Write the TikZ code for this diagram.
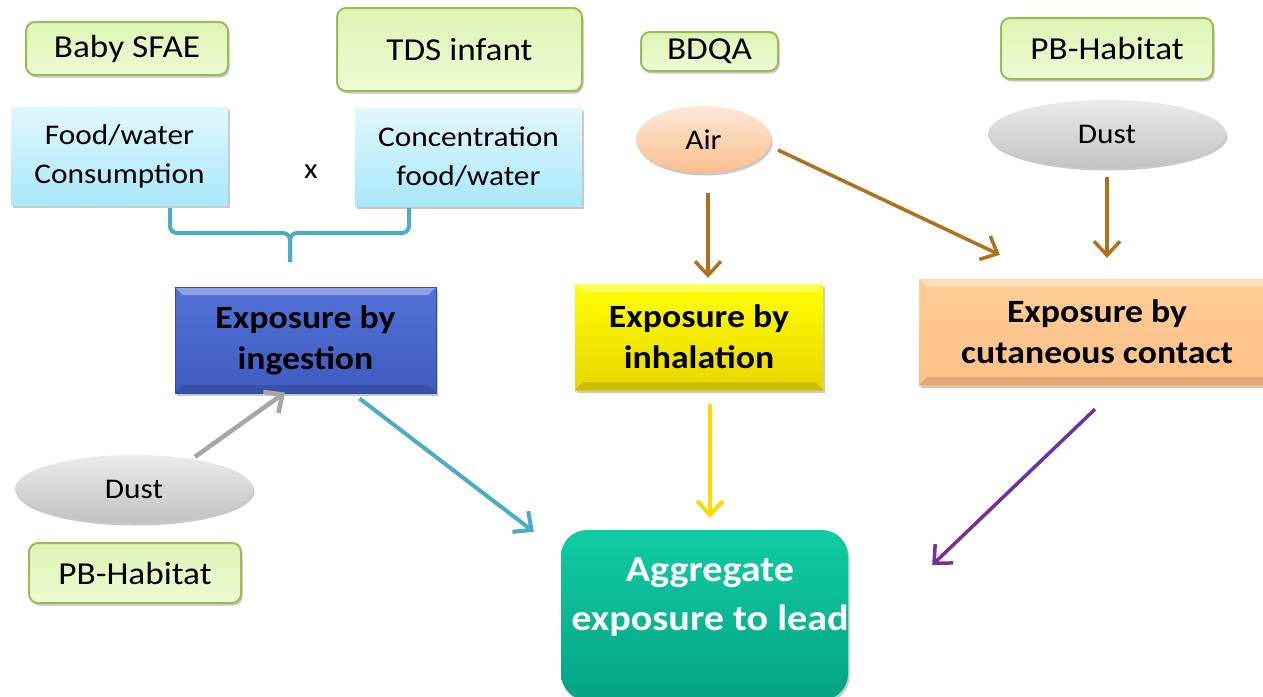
\documentclass[tikz,border=0pt]{standalone}
\usepackage{fontspec}
\setmainfont{Carlito}[FakeStretch=1.1]
\usetikzlibrary{shapes.geometric,shadows,arrows.meta}

\definecolor{srcborder}{HTML}{9BBB59}
\definecolor{srctop}{HTML}{DEF5B4}
\definecolor{srcbot}{HTML}{EDFBD4}
\definecolor{datatop}{HTML}{E2F7FD}
\definecolor{databot}{HTML}{A8E8FB}
\definecolor{airtop}{HTML}{FDE8D8}
\definecolor{airbot}{HTML}{FBBE8C}
\definecolor{dusttop}{HTML}{EBEBEB}
\definecolor{dustbot}{HTML}{C2C2C2}
\definecolor{ingtop}{HTML}{5272D8}
\definecolor{ingbot}{HTML}{3F5CBF}
\definecolor{ingline}{HTML}{34499A}
\definecolor{inhtop}{HTML}{FFFF00}
\definecolor{inhbot}{HTML}{E9D600}
\definecolor{cuttop}{HTML}{FFCC96}
\definecolor{cutbot}{HTML}{FCC188}
\definecolor{aggtop}{HTML}{10CCA2}
\definecolor{aggbot}{HTML}{06A484}
\definecolor{brownarrow}{HTML}{B0701C}
\definecolor{cyanarrow}{HTML}{4BACC6}
\definecolor{grayarrow}{HTML}{A6A6A6}
\definecolor{yellowarrow}{HTML}{FFD800}
\definecolor{purplearrow}{HTML}{7030A0}

\tikzset{
  softshadow/.style={drop shadow={shadow xshift=1.5pt,shadow yshift=-2.5pt,opacity=0.3,fill=black!70}},
  bevel/.style={path picture={
      \fill[white,opacity=0.35]
        (path picture bounding box.north west) -- (path picture bounding box.north east)
        -- ([xshift=-8pt,yshift=-8pt]path picture bounding box.north east)
        -- ([xshift=8pt,yshift=-8pt]path picture bounding box.north west) -- cycle;
      \fill[black,opacity=0.12]
        (path picture bounding box.south west) -- (path picture bounding box.south east)
        -- ([xshift=-8pt,yshift=8pt]path picture bounding box.south east)
        -- ([xshift=8pt,yshift=8pt]path picture bounding box.south west) -- cycle;}},
  srcbox/.style={rectangle,rounded corners=9pt,draw=srcborder,line width=2pt,
    top color=srctop,bottom color=srcbot,softshadow,inner sep=0pt,
    font=\fontsize{32}{38}\selectfont},
  databox/.style={rectangle,top color=datatop,bottom color=databot,softshadow,
    inner sep=0pt,align=center,font=\fontsize{28.5}{39}\selectfont},
  blob/.style={ellipse,inner sep=0pt,softshadow,font=\fontsize{28.5}{34}\selectfont},
  expbox/.style={rectangle,inner sep=0pt,align=center,softshadow,bevel,
    font=\bfseries\fontsize{32.5}{41}\selectfont},
  arr/.style={line width=3.5pt,-{Straight Barb[length=14pt,width=26pt]}},
  bracelink/.style={line width=4pt,draw=cyanarrow,rounded corners=7pt}
}

\begin{document}
\begin{tikzpicture}[x=1pt,y=-1pt]
\useasboundingbox (0,0) rectangle (1263,696);
\fill[white] (0,0) rectangle (1263,696);

% data sources
\node[srcbox,minimum width=202pt,minimum height=53pt] (baby) at (127,48.5) {Baby SFAE};
\node[srcbox,minimum width=245pt,minimum height=83pt] (tds) at (459.5,49.5) {TDS infant};
\node[srcbox,minimum width=137pt,minimum height=39pt] (bdqa) at (709.5,51.5) {BDQA};
\node[srcbox,minimum width=212pt,minimum height=61pt] (pbtop) at (1107,48.5) {PB-Habitat};
\node[srcbox,minimum width=212pt,minimum height=60pt] (pbbot) at (135,573) {PB-Habitat};

% ingestion factors
\node[databox,minimum width=217pt,minimum height=98pt] (food) at (119.5,156) {Food/water\\Consumption};
\node[databox,minimum width=227pt,minimum height=98pt] (conc) at (468.5,157) {Concentration\\food/water};
\node[font=\fontsize{28.5}{34}\selectfont,inner sep=0pt] (times) at (311,172) {x};

% media
\node[blob,top color=airtop,bottom color=airbot,minimum width=135pt,minimum height=67pt] (air) at (703.5,139.5) {Air};
\node[blob,top color=dusttop,bottom color=dustbot,minimum width=238pt,minimum height=68pt] (dustR) at (1107,134) {Dust};
\node[blob,top color=dusttop,bottom color=dustbot,minimum width=238pt,minimum height=68pt] (dustL) at (134,489) {Dust};

% exposure routes
\node[expbox,top color=ingtop,bottom color=ingbot,draw=ingline,line width=1pt,
      minimum width=261pt,minimum height=106pt] (ing) at (305.5,340) {Exposure by\\ingestion};
\node[expbox,top color=inhtop,bottom color=inhbot,
      minimum width=248pt,minimum height=106pt] (inh) at (699,337) {Exposure by\\inhalation};
\node[expbox,top color=cuttop,bottom color=cutbot,
      minimum width=356pt,minimum height=106pt] (cut) at (1097,332) {Exposure by\\cutaneous contact};

% aggregate exposure
\node[rectangle,rounded corners=26pt,top color=aggtop,bottom color=aggbot,softshadow,
      minimum width=287pt,minimum height=170pt] (agg) at (704.5,615) {};
\node[font=\bfseries\fontsize{36.5}{49}\selectfont,text=white,align=center,inner sep=0pt]
  (aggtext) at ([xshift=5.5pt,yshift=18pt]agg.center) {Aggregate\\exposure to lead};

% brace joining the two ingestion factors
\coordinate (braceL) at ([xshift=50.5pt,yshift=-3pt]food.south);
\coordinate (braceR) at ([xshift=-59.5pt,yshift=-2pt]conc.south);
\coordinate (braceMid) at (290,233);
\coordinate (braceTip) at (290,262);
\draw[bracelink] (braceL) |- (braceMid) -- (braceTip);
\draw[bracelink] (braceR) |- (braceMid) -- (braceTip);

% arrows
\draw[arr,brownarrow] ([xshift=4.5pt,yshift=-20pt]air.south) -- ([xshift=9pt,yshift=6pt]inh.north);
\draw[arr,brownarrow] ([xshift=74.5pt,yshift=-10.5pt]air.center) -- ([xshift=81pt,yshift=24pt]cut.north west);
\draw[arr,brownarrow] ([yshift=-9pt]dustR.south) -- ([xshift=10pt,yshift=21pt]cut.north);
\draw[arr,grayarrow,line width=4.5pt] ([xshift=61pt,yshift=-2pt]dustL.north) -- ([xshift=-20.5pt,yshift=1pt]ing.south);
\draw[arr,cyanarrow,line width=4pt] ([xshift=-77pt,yshift=-5pt]ing.south east) -- ([xshift=-27pt,yshift=-2pt]agg.north west);
\draw[arr,yellowarrow,line width=4pt] ([xshift=11pt,yshift=-14pt]inh.south) -- ([xshift=5.5pt,yshift=12pt]agg.north);
\draw[arr,purplearrow] ([xshift=-2pt,yshift=-24pt]cut.south) -- ([xshift=84pt,yshift=50pt]agg.east);
\end{tikzpicture}
\end{document}
